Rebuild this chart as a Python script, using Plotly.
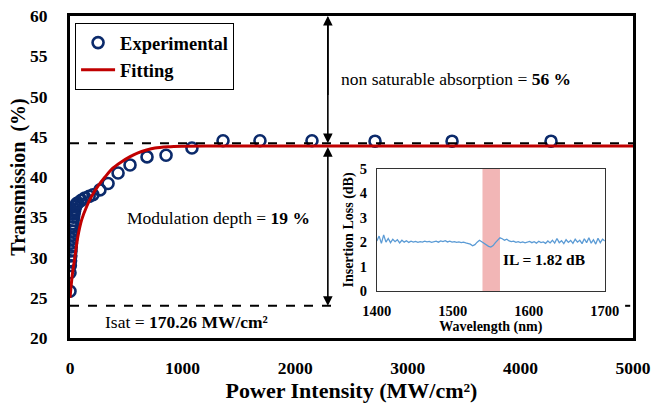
import plotly.graph_objects as go

# ---- main data ----
exp_x = [0, 0, 3, 5, 7, 9, 11, 13, 15, 17, 19, 22, 25, 28, 31, 35, 39, 43, 48, 54, 60, 71,
         100, 133, 170, 204, 266, 338, 427, 533, 684, 853, 1083, 1359, 1687, 2149, 2709, 3393, 4272]
exp_y = [25.8, 28.1, 29.0, 29.6, 30.2, 30.8, 31.3, 31.8, 32.3, 32.8, 33.3, 33.8, 34.2, 34.6, 35.0,
         35.4, 35.7, 36.0, 36.3, 36.5, 36.7, 36.8, 37.1, 37.4, 37.6, 37.8, 38.4, 39.2, 40.5, 41.5,
         42.5, 42.7, 43.6, 44.5, 44.5, 44.5, 44.45, 44.45, 44.45]

fit_x = [0, 20, 44, 70, 104, 150, 192, 250, 311, 380, 459, 530, 604, 680, 755, 870, 992,
         1200, 1500, 2000, 3000, 4000, 5000]
fit_y = [25.0, 27.8, 30.1, 32.6, 34.7, 36.4, 37.6, 38.9, 40.0, 41.1, 41.9, 42.5, 43.0, 43.35,
         43.6, 43.75, 43.82, 43.85, 43.85, 43.85, 43.85, 43.85, 43.85]

x_ticks = [0, 1000, 2000, 3000, 4000, 5000]
y_ticks = [20, 25, 30, 35, 40, 45, 50, 55, 60]

sat_level = 44.2
low_level = 24.0
arrow_x = 2290

# ---- inset data ----
wl = list(range(1400, 1701, 3))
il = [2.05, 2.25, 1.95, 2.30, 2.00, 2.15, 1.98, 2.12, 2.02, 2.10, 1.97, 2.08, 2.00, 2.06, 1.99,
      2.04, 2.00, 2.03, 1.99, 2.02, 2.00, 2.04, 2.01, 2.03, 1.99, 2.02, 2.04, 2.00, 2.05, 2.02,
      2.06, 2.01, 2.04, 2.00, 2.02, 1.99, 2.01, 1.98, 2.00, 1.97, 1.96, 1.92, 1.85, 1.90, 2.00,
      2.08, 2.02, 1.95, 1.88, 1.83, 1.80, 1.86, 1.98, 2.10, 2.18, 2.14, 2.08, 2.12, 2.05, 2.02,
      2.04, 1.99, 2.02, 1.98, 2.01, 1.97, 2.00, 2.03, 1.98, 2.02, 1.96, 2.04, 1.98, 2.01, 1.95,
      2.05, 1.97, 2.08, 1.96, 2.15, 1.98, 2.06, 1.94, 2.10, 1.99, 2.07, 1.95, 2.12, 2.00, 2.08,
      1.94, 2.14, 1.98, 2.18, 1.96, 2.10, 1.92, 2.16, 1.98, 2.12, 2.05]
band = [1539, 1562]

FONT = "Liberation Serif"
NAVY = "#0B2A6B"
RED = "#C00000"

fig = go.Figure()

fig.add_trace(go.Scatter(x=exp_x, y=exp_y, mode="markers", name="Experimental",
                         marker=dict(symbol="circle-open", size=11, color=NAVY,
                                     line=dict(width=2.6, color=NAVY)),
                         xaxis="x", yaxis="y"))
fig.add_trace(go.Scatter(x=fit_x, y=fit_y, mode="lines", name="Fitting",
                         line=dict(color=RED, width=3, shape="spline", smoothing=0.8),
                         xaxis="x", yaxis="y"))
# dashed guide lines
fig.add_trace(go.Scatter(x=[0, 5000], y=[sat_level, sat_level], mode="lines", showlegend=False,
                         line=dict(color="black", width=2, dash="dash"), xaxis="x", yaxis="y"))
fig.add_trace(go.Scatter(x=[0, 2380], y=[low_level, low_level], mode="lines", showlegend=False,
                         line=dict(color="black", width=2, dash="dash"), xaxis="x", yaxis="y"))
fig.add_trace(go.Scatter(x=[4930, 4975], y=[low_level, low_level], mode="lines", showlegend=False,
                         line=dict(color="black", width=2), xaxis="x", yaxis="y"))

# inset spectrum
fig.add_trace(go.Scatter(x=wl, y=il, mode="lines", showlegend=False,
                         line=dict(color="#5B9BD5", width=1.3), xaxis="x2", yaxis="y2"))

fig.add_shape(type="rect", xref="x2", yref="y2", x0=band[0], x1=band[1], y0=0, y1=5,
              fillcolor="#F2B6B6", line=dict(width=0), layer="below")

ann = []
# arrows
ann.append(dict(x=arrow_x, y=sat_level, ax=arrow_x, ay=60, xref="x", yref="y", axref="x", ayref="y",
                showarrow=True, arrowhead=2, arrowsize=1.2, arrowwidth=1.6, arrowcolor="black", text=""))
ann.append(dict(x=arrow_x, y=60, ax=arrow_x, ay=50, xref="x", yref="y", axref="x", ayref="y",
                showarrow=True, arrowhead=2, arrowsize=1.2, arrowwidth=1.6, arrowcolor="black", text=""))
ann.append(dict(x=arrow_x, y=low_level, ax=arrow_x, ay=43.9, xref="x", yref="y", axref="x", ayref="y",
                showarrow=True, arrowhead=2, startarrowhead=2, arrowside="end+start",
                arrowsize=1.2, startarrowsize=1.2, arrowwidth=1.6, arrowcolor="black", text=""))
# texts
ann.append(dict(x=2390, y=52.2, xref="x", yref="y", xanchor="left", showarrow=False,
                text="non saturable absorption = <b>56 %</b>", font=dict(family=FONT, size=17.5, color="black")))
ann.append(dict(x=488, y=34.9, xref="x", yref="y", xanchor="left", showarrow=False,
                text="Modulation depth = <b>19 %</b>", font=dict(family=FONT, size=17.5, color="black")))
ann.append(dict(x=293, y=22.0, xref="x", yref="y", xanchor="left", showarrow=False,
                text="Isat = <b>170.26 MW/cm²</b>", font=dict(family=FONT, size=17.5, color="black")))
ann.append(dict(x=1620, y=1.27, xref="x2", yref="y2", showarrow=False,
                text="<b>IL = 1.82 dB</b>", font=dict(family=FONT, size=15.5, color="black")))

fig.update_layout(
    width=654, height=403,
    margin=dict(l=70, r=21, t=16, b=65),
    paper_bgcolor="white", plot_bgcolor="white",
    font=dict(family=FONT, color="black"),
    showlegend=True,
    legend=dict(x=0.009, y=0.978, xanchor="left", yanchor="top",
                bgcolor="white", bordercolor="black", borderwidth=1,
                font=dict(family=FONT, size=18.5, color="black", weight="bold"),
                tracegroupgap=0, itemwidth=34),
    xaxis=dict(domain=[0, 1], range=[0, 5000], tickvals=x_ticks, showgrid=False, zeroline=False,
               showline=True, linecolor="black", linewidth=3, mirror=True, ticks="",
               ticklabelstandoff=12, automargin=False, ticklabeloverflow="allow",
               tickfont=dict(family=FONT, size=17.5, color="black", weight="bold"),
               title=dict(text="<b>Power Intensity (MW/cm²)</b>", font=dict(family=FONT, size=22), standoff=4)),
    yaxis=dict(domain=[0, 1], range=[20, 60], tickvals=y_ticks, showgrid=False, zeroline=False,
               showline=True, linecolor="black", linewidth=3, mirror=True, ticks="",
               ticklabelstandoff=16, automargin=False, ticklabeloverflow="allow",
               tickfont=dict(family=FONT, size=17.5, color="black", weight="bold"),
               title=dict(text="<b>Transmission  (%)</b>", font=dict(family=FONT, size=20), standoff=0)),
    xaxis2=dict(domain=[0.545, 0.950], anchor="y2", range=[1400, 1700], tickvals=[1400, 1500, 1600, 1700],
                showgrid=False, zeroline=False, showline=True, linecolor="#333", linewidth=1, mirror=True,
                ticks="", ticklabelstandoff=7, automargin=False,
                tickfont=dict(family=FONT, size=14.5, color="black", weight="bold"),
                title=dict(text="<b>Wavelength (nm)</b>", font=dict(family=FONT, size=14), standoff=0)),
    yaxis2=dict(domain=[0.146, 0.525], anchor="x2", range=[0, 5], tickvals=[0, 1, 2, 3, 4, 5],
                showgrid=False, zeroline=False, showline=True, linecolor="#333", linewidth=1, mirror=True,
                ticks="", ticklabelstandoff=6, automargin=False,
                tickfont=dict(family=FONT, size=14.5, color="black", weight="bold"),
                title=dict(text="<b>Insertion Loss (dB)</b>", font=dict(family=FONT, size=14), standoff=2)),
    annotations=ann,
)

# remove the page's default body margin so the 654x403 figure fills the window exactly
fig.write_html("out.html", config={"displayModeBar": False},
               post_script="document.body.style.margin='0';document.body.style.overflow='hidden';")
